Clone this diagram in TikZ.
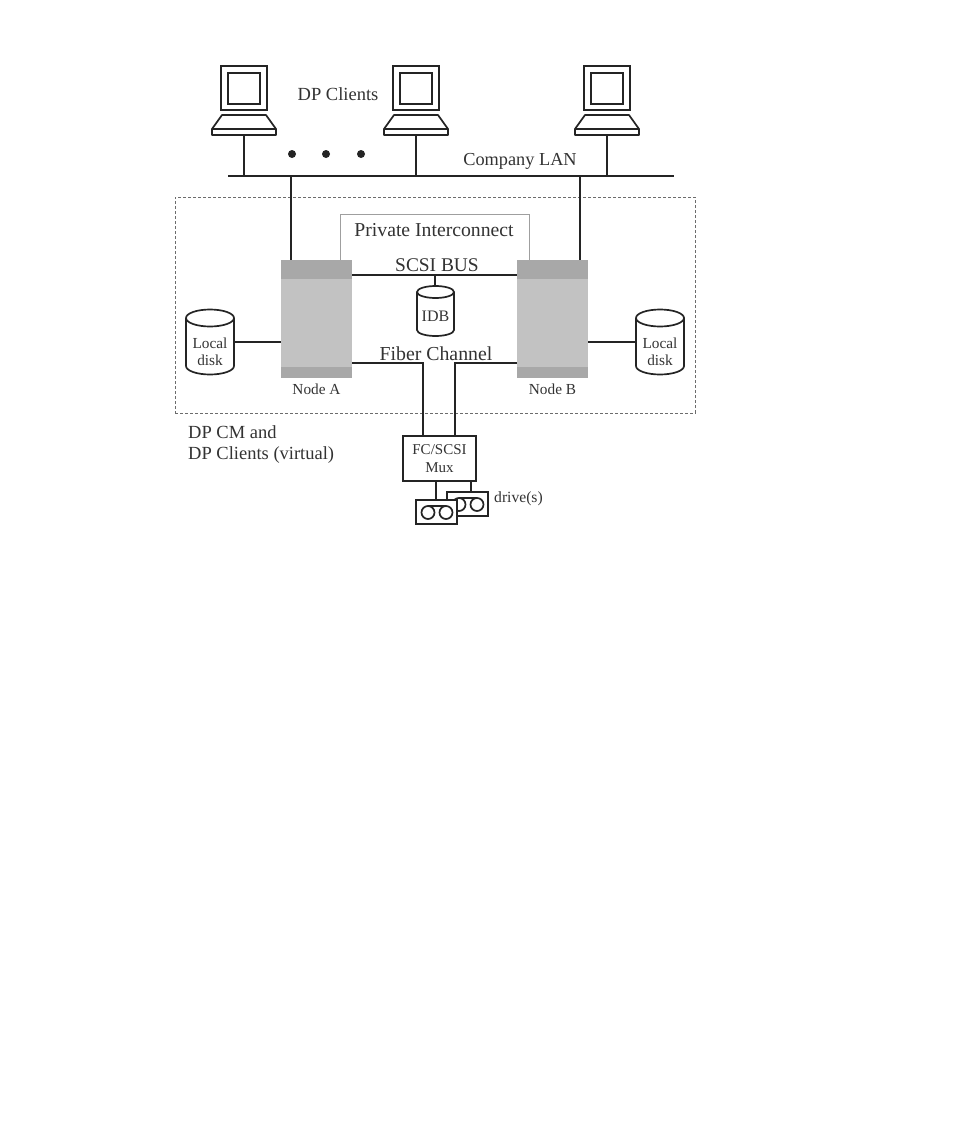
\documentclass[tikz,border=0pt]{standalone}
\usepackage{fontspec}
\setmainfont{Liberation Serif}
\definecolor{txt}{gray}{0.2}
\definecolor{lin}{gray}{0.14}
\definecolor{nodebody}{gray}{0.76}
\definecolor{nodeband}{gray}{0.66}
\tikzset{
 wire/.style={draw=lin,line width=1.8pt},
 lbl/.style={inner sep=0pt,text=txt,align=center,font=\fontsize{#1}{#1}\selectfont},
 lbl/.default=14,
 pc/.pic={
  \draw[draw=lin,line width=1.9pt,fill=white] (-23,-44) rectangle (23,0);
  \draw[draw=lin,line width=1.9pt] (-16,-37) rectangle (16,-6);
  \draw[draw=lin,line width=1.7pt,line join=round] (-22,5) -- (22,5) -- (32,19) -- (32,25) -- (-32,25) -- (-32,19) -- cycle;
  \draw[draw=lin,line width=1.5pt] (-32,19) -- (32,19);
 },
 cyl/.pic={
  \draw[draw=lin,line width=1.7pt,fill=white] (-\cylw,0) arc[start angle=180,end angle=360,x radius=\cylw,y radius=\cylr] -- (\cylw,\cylh) arc[start angle=0,end angle=180,x radius=\cylw,y radius=\cylr] -- cycle;
  \draw[draw=lin,line width=1.7pt] (-\cylw,0) arc[start angle=180,end angle=0,x radius=\cylw,y radius=\cylr];
 },
 tape/.pic={
  \draw[draw=lin,line width=1.9pt,fill=white] (0,0) rectangle (41,24);
  \draw[draw=lin,line width=1.7pt] (12,12.5) circle[radius=6.5];
  \draw[draw=lin,line width=1.7pt] (30,12.5) circle[radius=6.5];
  \draw[draw=lin,line width=1.7pt] (12,6) -- (30,6);
 }
}
\begin{document}
\begin{tikzpicture}[x=1pt,y=-1pt]
\useasboundingbox (0,0) rectangle (954,1145);
\fill[white] (0,0) rectangle (954,1145);
% dashed cluster
\node[draw=gray!85!black,densely dashed,line width=0.7pt,minimum width=520pt,minimum height=216pt,inner sep=0pt] (cluster) at (435,305) {};
% clients
\pic at (244,110) {pc};
\pic at (416,110) {pc};
\pic at (607,110) {pc};
\coordinate (lanL) at (228,176);
\coordinate (lanR) at (674,176);
\draw[draw=lin,line width=2.4pt] (lanL) -- (lanR);
\coordinate (s1) at (244,135); \coordinate (s2) at (416,135); \coordinate (s3) at (607,135);
\draw[wire] (s1) -- (s1 |- lanL);
\draw[wire] (s2) -- (s2 |- lanL);
\draw[wire] (s3) -- (s3 |- lanL);
\foreach \x in {292,326,361}
  \fill[lin] (\x,154) circle[radius=4];
\node[lbl=18.5] (clients) at (338,94) {DP Clients};
\node[lbl=18.3] (lan) at (520,161.5) {Company LAN};
% private interconnect
\draw[draw=gray!75,line width=1pt] (340,262) -- (340,214) -- (529,214) -- (529,262);
\node[lbl=19.7] (pi) at (434,230) {Private Interconnect};
% nodes
\node[fill=nodebody,minimum width=71pt,minimum height=118pt,inner sep=0pt] (nodeA) at (316.5,319) {};
\node[fill=nodebody,minimum width=71pt,minimum height=118pt,inner sep=0pt] (nodeB) at (552.5,319) {};
\foreach \n in {nodeA,nodeB}{
 \fill[nodeband] (\n.north west) rectangle ([yshift=-19pt]\n.north east);
 \fill[nodeband] ([yshift=11pt]\n.south west) rectangle (\n.south east);
}
\node[lbl=15.3] (la) at (316.5,389) {Node A};
\node[lbl=15.3] (lb) at (552.5,389) {Node B};
% LAN drops
\coordinate (aTop) at (291,260); \coordinate (bTop) at (580,260);
\draw[wire] (aTop |- lanL) -- (aTop);
\draw[wire] (bTop |- lanL) -- (bTop);
% SCSI
\coordinate (scsiL) at (352,275); \coordinate (scsiR) at (517,275);
\draw[wire] (scsiL) -- (scsiR);
\node[lbl=19.4] (scsi) at (437,265) {SCSI BUS};
\coordinate (scsiT) at (435,275);
% IDB
\def\cylw{18.5}\def\cylr{6}\def\cylh{38}
\draw[wire] (scsiT) -- (435,287);
\pic at (435.5,292) {cyl};
\node[lbl=16] (idb) at (435.5,316) {IDB};
% local disks
\def\cylw{24}\def\cylr{8.5}\def\cylh{48}
\pic at (210,318) {cyl};
\pic at (660,318) {cyl};
\node[lbl=15.3] (ldA) at (210,352) {Local\\[2pt]disk};
\node[lbl=15.3] (ldB) at (660,352) {Local\\[2pt]disk};
\coordinate (dA) at (234,342); \coordinate (dB) at (636,342);
\draw[wire] (dA) -- (dA -| nodeA.west);
\draw[wire] (dB) -- (dB -| nodeB.east);
% Fiber
\node[lbl=19.8] (fc) at (436,354) {Fiber Channel};
\node[draw=lin,line width=1.9pt,fill=white,minimum width=73pt,minimum height=45pt,inner sep=0pt] (mux) at (439.5,458.5) {};
\node[lbl=15] (muxt) at (439.5,458.5) {FC/SCSI\\[3pt]Mux};
\coordinate (fL) at (352,363); \coordinate (fR) at (517,363);
\draw[wire] (fL) -| (423,436);
\draw[wire] (fR) -| (455,436);
% drives
\draw[wire] (471,481) -- (471,492);
\pic at (447,492) {tape};
\draw[wire] (436,481) -- (436,500);
\pic at (416,500) {tape};
\node[lbl=15.6,anchor=west] (dr) at (494,499) {drive(s)};
% cluster caption
\node[lbl=18.5,align=left,anchor=north west] (cap) at (188,425) {DP CM and\\[2.5pt]DP Clients (virtual)};
\end{tikzpicture}
\end{document}
